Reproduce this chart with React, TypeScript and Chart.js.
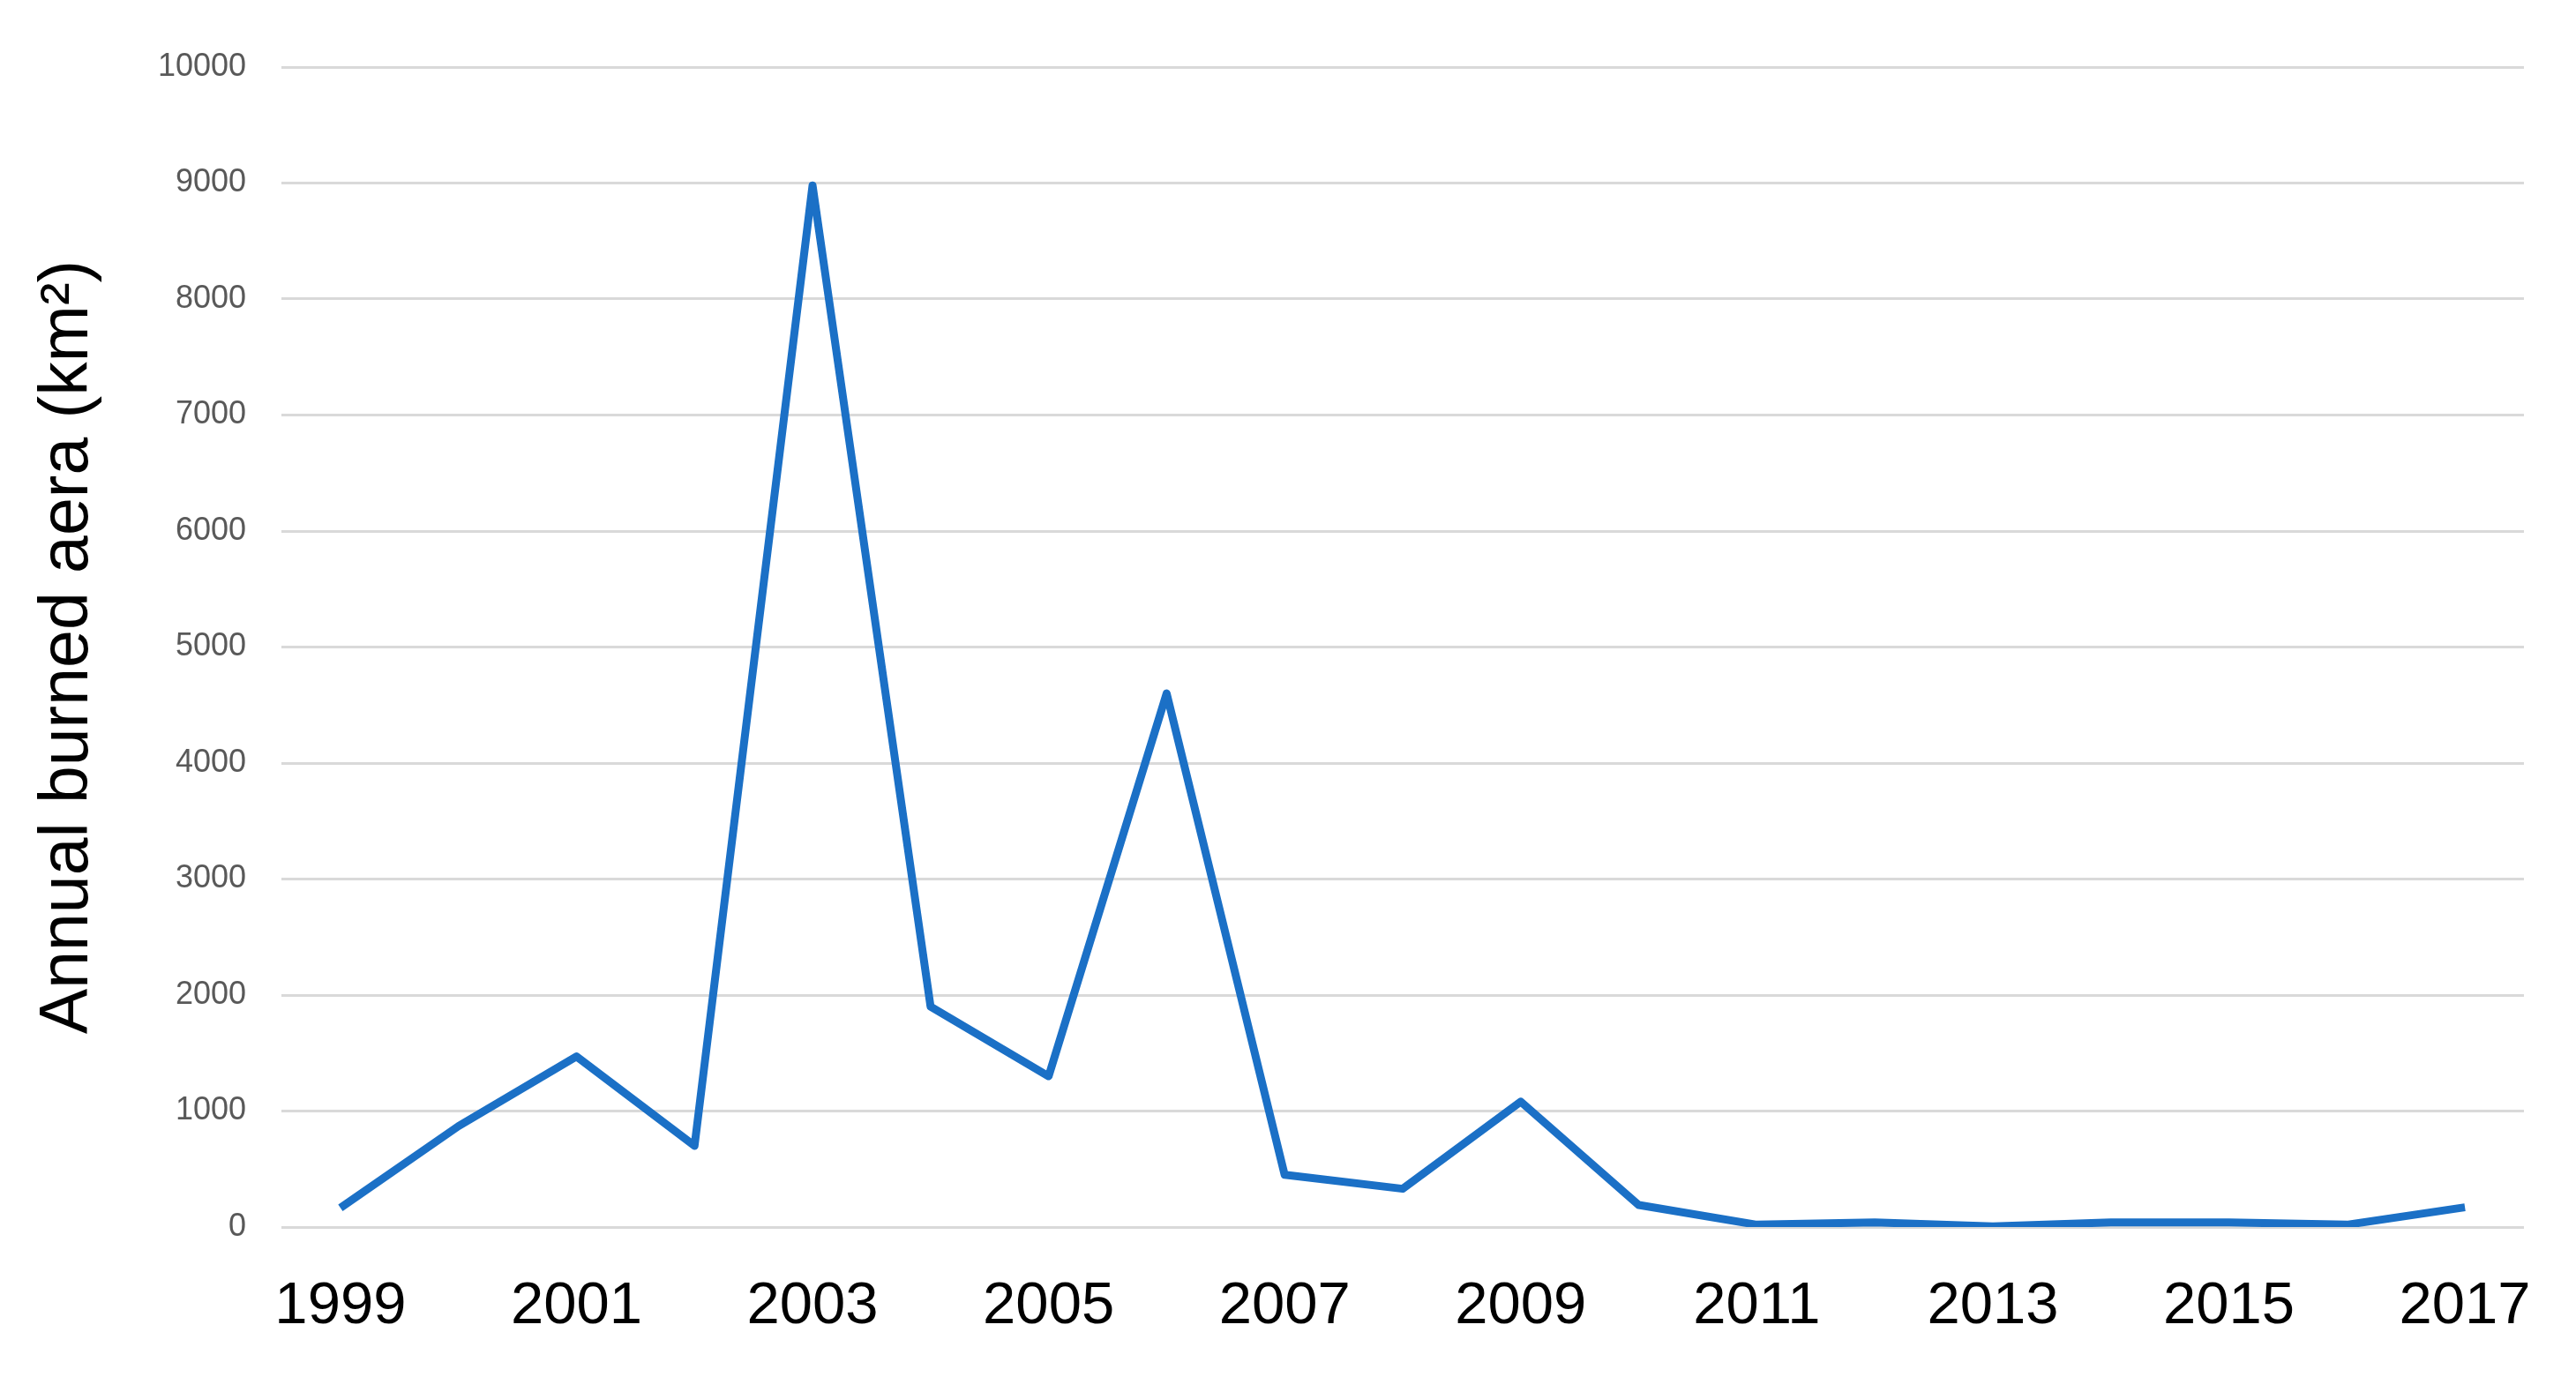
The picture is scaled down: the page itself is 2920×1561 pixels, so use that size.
import React, { useEffect, useRef } from "react";
import { Chart, registerables } from "chart.js";

Chart.register(...registerables);

const years: string[] = [
  "1999", "2000", "2001", "2002", "2003", "2004", "2005", "2006", "2007", "2008",
  "2009", "2010", "2011", "2012", "2013", "2014", "2015", "2016", "2017",
];
const burnedArea: number[] = [
  165, 870, 1470, 700, 8980, 1900, 1300, 4600, 450, 330,
  1080, 190, 20, 40, 5, 40, 40, 20, 170,
];
const yTicks: number[] = [0, 1000, 2000, 3000, 4000, 5000, 6000, 7000, 8000, 9000, 10000];
const yTitle = "Annual burned aera (km\u00B2)";

const W = 2920;
const H = 1561;

export default function App() {
  const ref = useRef<HTMLCanvasElement | null>(null);

  useEffect(() => {
    if (!ref.current) return;
    const chart = new Chart(ref.current, {
      type: "line",
      data: {
        labels: years,
        datasets: [
          {
            data: burnedArea,
            borderColor: "#1b70c6",
            borderWidth: 9,
            pointRadius: 0,
            fill: false,
            tension: 0,
            borderJoinStyle: "round",
            borderCapStyle: "butt",
          },
        ],
      },
      options: {
        animation: false,
        responsive: false,
        devicePixelRatio: 1,
        layout: { padding: { left: 35, top: 76, right: 52, bottom: 0 } },
        plugins: { legend: { display: false }, tooltip: { enabled: false } },
        scales: {
          x: {
            type: "category",
            offset: true,
            grid: { display: false, drawTicks: false },
            border: { display: false },
            ticks: {
              autoSkip: false,
              maxRotation: 0,
              minRotation: 0,
              padding: 50,
              color: "#000000",
              font: { family: "Liberation Sans", size: 67 },
              callback: (_v: any, i: number) => (i % 2 === 0 ? years[i] : ""),
            },
            afterFit: (s: any) => {
              s.height = 170;
            },
          },
          y: {
            min: 0,
            max: 10000,
            afterBuildTicks: (s: any) => {
              s.ticks = yTicks.map((v) => ({ value: v }));
            },
            grid: { color: "#d9d9d9", lineWidth: 3, drawTicks: false },
            border: { display: false },
            ticks: {
              padding: 40,
              color: "#595959",
              font: { family: "Liberation Sans", size: 36 },
              callback: (v: any) => String(v),
            },
            title: {
              display: true,
              text: yTitle,
              color: "#000000",
              font: { family: "Liberation Sans", size: 77, lineHeight: 1.0 },
              padding: { top: 4, bottom: 4 },
            },
            afterFit: (s: any) => {
              s.width = 319 - 35;
            },
          },
        },
      },
    });
    return () => chart.destroy();
  }, []);

  return (
    <div style={{ position: "fixed", left: 0, top: 0, width: W, height: H, background: "#ffffff" }}>
      <canvas ref={ref} width={W} height={H} style={{ display: "block", width: W, height: H }} />
    </div>
  );
}
